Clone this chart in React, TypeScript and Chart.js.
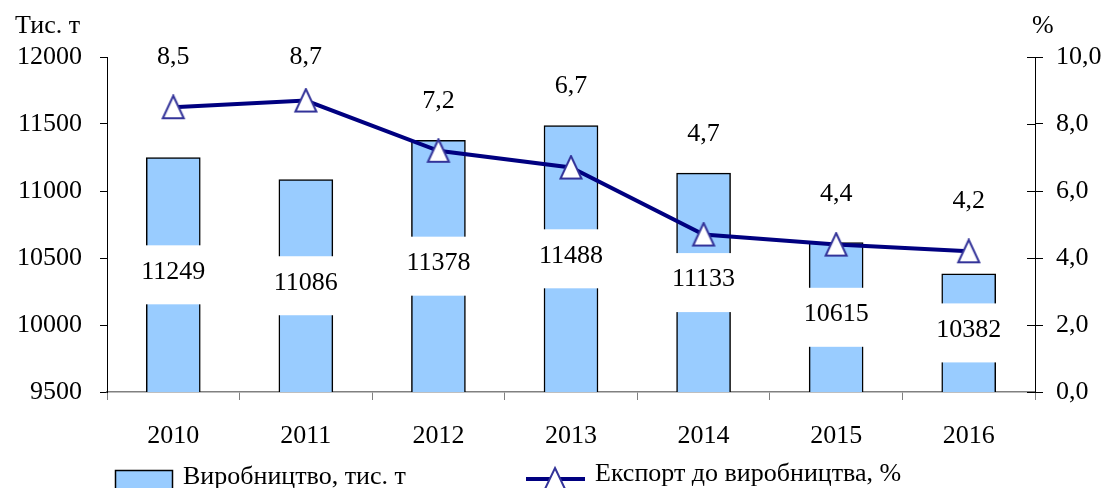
import React, { useEffect, useRef } from "react";
import { Chart, registerables } from "chart.js";

Chart.register(...registerables);

const categories = ["2010", "2011", "2012", "2013", "2014", "2015", "2016"];
const production = [11249, 11086, 11378, 11488, 11133, 10615, 10382];
const exportShare = [8.5, 8.7, 7.2, 6.7, 4.7, 4.4, 4.2];
const leftTitle = "Тис. т";
const rightTitle = "%";
const barLegend = "Виробництво, тис. т";
const lineLegend = "Експорт до виробництва, %";

const FONT = "'Liberation Serif', 'Times New Roman', serif";
const FS = 26;

const fmtComma = (v: number) => v.toFixed(1).replace(".", ",");

function makeTriangle(): HTMLCanvasElement {
  const c = document.createElement("canvas");
  c.width = 26;
  c.height = 26;
  const g = c.getContext("2d")!;
  g.beginPath();
  g.moveTo(13, 1.5);
  g.lineTo(23.5, 24);
  g.lineTo(2.5, 24);
  g.closePath();
  g.fillStyle = "#ffffff";
  g.fill();
  g.strokeStyle = "#333399";
  g.lineWidth = 2;
  g.stroke();
  return c;
}

const overlayPlugin = {
  id: "overlay",
  afterDatasetDraw(chart: any, args: any) {
    if (args.index !== 0) return;
    const ctx = chart.ctx;
    const ys = chart.scales.y;
    const xs = chart.scales.x;
    const base = chart.chartArea.bottom;
    ctx.save();
    ctx.font = `${FS}px ${FONT}`;
    ctx.textAlign = "center";
    ctx.textBaseline = "middle";
    production.forEach((v: number, i: number) => {
      const x = xs.getPixelForValue(i);
      const top = ys.getPixelForValue(v);
      const cy = (top + base) / 2;
      const txt = String(v);
      const w = ctx.measureText(txt).width + 8;
      ctx.fillStyle = "#ffffff";
      ctx.fillRect(x - w / 2, cy - 29.5, w, 59);
      ctx.fillStyle = "#000000";
      ctx.fillText(txt, x, cy - 3);
    });
    ctx.restore();
  },
  afterDraw(chart: any) {
    const ctx = chart.ctx;
    const area = chart.chartArea;
    ctx.save();
    const y1 = chart.scales.y1;
    const ys = chart.scales.y;
    ctx.strokeStyle = "#000000";
    ctx.lineWidth = 1;
    y1.ticks.forEach((t: any) => {
      const yy = Math.round(y1.getPixelForValue(t.value)) + 0.5;
      ctx.beginPath();
      ctx.moveTo(area.right - 8, yy);
      ctx.lineTo(area.right, yy);
      ctx.stroke();
    });
    const xs = chart.scales.x;
    ctx.font = `${FS}px ${FONT}`;
    ctx.fillStyle = "#000000";
    ctx.textAlign = "center";
    ctx.textBaseline = "middle";
    exportShare.forEach((v: number, i: number) => {
      const x = xs.getPixelForValue(i);
      const y = y1.getPixelForValue(v);
      const barTop = ys.getPixelForValue(production[i]);
      const ly = Math.max(area.top, Math.min(y - 50, barTop - 39));
      ctx.fillText(fmtComma(v), x, ly);
    });
    ctx.textAlign = "left";
    ctx.fillText(leftTitle, 15, 26);
    ctx.fillText(rightTitle, 1032, 26);
    // legend
    ctx.fillStyle = "#99CCFF";
    ctx.fillRect(115, 470, 57, 24);
    ctx.strokeStyle = "#000000";
    ctx.lineWidth = 1.5;
    ctx.strokeRect(115.5, 470.5, 57, 24);
    ctx.fillStyle = "#000000";
    ctx.fillText(barLegend, 183, 477);
    ctx.strokeStyle = "#000080";
    ctx.lineWidth = 4;
    ctx.beginPath();
    ctx.moveTo(526, 479);
    ctx.lineTo(585, 479);
    ctx.stroke();
    ctx.beginPath();
    const cx = 555, apex = 468, h = 22, hw = 10.5;
    ctx.moveTo(cx, apex);
    ctx.lineTo(cx + hw, apex + h);
    ctx.lineTo(cx - hw, apex + h);
    ctx.closePath();
    ctx.fillStyle = "#ffffff";
    ctx.fill();
    ctx.strokeStyle = "#333399";
    ctx.lineWidth = 2;
    ctx.stroke();
    ctx.fillStyle = "#000000";
    ctx.fillText(lineLegend, 595, 474);
    ctx.restore();
  },
};

export default function App() {
  const ref = useRef<HTMLCanvasElement | null>(null);
  useEffect(() => {
    document.body.style.margin = "0";
    const canvas = ref.current;
    if (!canvas) return;
    const tri = makeTriangle();
    const chart = new Chart(canvas, {
      type: "bar",
      data: {
        labels: categories,
        datasets: [
          {
            type: "bar",
            label: barLegend,
            data: production,
            backgroundColor: "#99CCFF",
            borderColor: "#000000",
            borderWidth: 1.5,
            barThickness: 54,
            yAxisID: "y",
            order: 1,
          } as any,
          {
            type: "line",
            label: lineLegend,
            data: exportShare,
            borderColor: "#000080",
            borderWidth: 4,
            pointStyle: tri,
            pointRadius: 12,
            tension: 0,
            yAxisID: "y1",
            order: 0,
          } as any,
        ],
      },
      options: {
        animation: false,
        responsive: false,
        devicePixelRatio: 1,
        layout: { padding: { top: 57, left: 0, right: 0, bottom: 0 } },
        plugins: {
          legend: { display: false },
          tooltip: { enabled: false },
        },
        scales: {
          x: {
            grid: {
              drawOnChartArea: false,
              tickLength: 8,
              color: "#808080",
              offset: true,
            },
            border: { color: "#808080", width: 1.5 },
            ticks: {
              color: "#000000",
              font: { family: FONT, size: FS },
              padding: 21,
              maxRotation: 0,
            },
            afterFit: (s: any) => {
              s.height = 96;
            },
          },
          y: {
            position: "left",
            min: 9500,
            max: 12000,
            grid: { drawOnChartArea: false, tickLength: 7, color: "#000000" },
            border: { color: "#000000", width: 1 },
            ticks: {
              stepSize: 500,
              color: "#000000",
              font: { family: FONT, size: FS },
              padding: 18,
              callback: (v: any) => String(v),
            },
            afterFit: (s: any) => {
              s.width = 107;
            },
          },
          y1: {
            position: "right",
            min: 0,
            max: 10,
            grid: { drawOnChartArea: false, tickLength: 8, color: "#000000" },
            border: { color: "#000000", width: 1 },
            ticks: {
              stepSize: 2,
              color: "#000000",
              font: { family: FONT, size: FS },
              padding: 13,
              callback: (v: any) => fmtComma(Number(v)),
            },
            afterFit: (s: any) => {
              s.width = 69;
            },
          },
        },
      } as any,
      plugins: [overlayPlugin],
    });
    return () => chart.destroy();
  }, []);
  return (
    <div style={{ width: 1104, height: 488, background: "#ffffff" }}>
      <canvas ref={ref} width={1104} height={488} style={{ display: "block" }} />
    </div>
  );
}
